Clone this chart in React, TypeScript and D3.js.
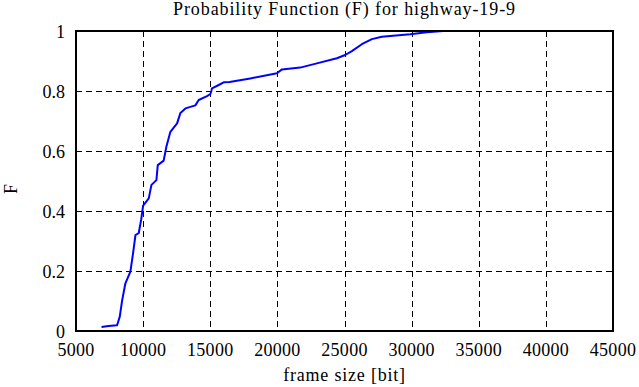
import React, { useRef, useEffect } from "react";
import * as d3 from "d3";

type Point = [number, number];

// values
const frameSizes: number[] = [
  6900, 7420, 8060, 8260, 8440, 8680, 9050, 9250, 9430, 9670, 9850, 10000, 10420, 10620,
  10990, 11090, 11530, 11730, 12030, 12530, 12780, 13150, 13890, 14140, 14760, 15010,
  15080, 15130, 15630, 16000, 16440, 17980, 19970, 20340, 21700, 22940, 24430, 25050,
  25550, 26290, 27040, 27780, 29890, 31130, 32360,
];
const probF: number[] = [
  0.013, 0.017, 0.019, 0.048, 0.103, 0.159, 0.198, 0.259, 0.32, 0.326, 0.37, 0.418, 0.442,
  0.487, 0.503, 0.553, 0.568, 0.614, 0.664, 0.692, 0.727, 0.742, 0.752, 0.77, 0.783, 0.79,
  0.8, 0.809, 0.82, 0.829, 0.83, 0.842, 0.859, 0.872, 0.878, 0.892, 0.909, 0.92, 0.933,
  0.956, 0.973, 0.981, 0.989, 0.996, 1.0,
];
const xTicks: number[] = [5000, 10000, 15000, 20000, 25000, 30000, 35000, 40000, 45000];
const yTicks: number[] = [0, 0.2, 0.4, 0.6, 0.8, 1];

const title = "Probability Function (F) for highway-19-9";
const xLabel = "frame size [bit]";
const yLabel = "F";

const W = 639;
const H = 387;

const App: React.FC = () => {
  const svgRef = useRef<SVGSVGElement>(null);

  useEffect(() => {
    const margin = { top: 31, right: 26, bottom: 56, left: 76 };
    const width = W - margin.left - margin.right;
    const height = H - margin.top - margin.bottom;
    const font = "Liberation Serif, DejaVu Serif, serif";

    const svg = d3.select(svgRef.current);
    svg.selectAll("*").remove();
    const focus = svg.append("g").attr("transform", `translate(${margin.left},${margin.top})`);

    const x = d3.scaleLinear().domain([5000, 45000]).range([0, width]);
    const y = d3.scaleLinear().domain([0, 1]).range([height, 0]);

    // grid (half-pixel offset keeps the 1px dashes crisp)
    focus.append("g")
      .selectAll("line")
      .data(xTicks.slice(1, -1))
      .enter()
      .append("line")
      .attr("x1", d => Math.round(x(d)) + 0.5).attr("x2", d => Math.round(x(d)) + 0.5)
      .attr("y1", 0).attr("y2", height)
      .attr("stroke", "#000").attr("stroke-width", 1)
      .attr("shape-rendering", "crispEdges")
      .attr("stroke-dasharray", "6,4");

    focus.append("g")
      .selectAll("line")
      .data(yTicks.slice(1, -1))
      .enter()
      .append("line")
      .attr("x1", 0).attr("x2", width)
      .attr("y1", d => Math.round(y(d)) + 0.5).attr("y2", d => Math.round(y(d)) + 0.5)
      .attr("stroke", "#000").attr("stroke-width", 1)
      .attr("shape-rendering", "crispEdges")
      .attr("stroke-dasharray", "6,4");

    // tick labels
    focus.append("g")
      .selectAll("text")
      .data(xTicks)
      .enter()
      .append("text")
      .attr("x", d => x(d))
      .attr("y", height + 25)
      .attr("text-anchor", "middle")
      .attr("font-family", font)
      .attr("font-size", 18)
      .attr("letter-spacing", 0.3)
      .text(d => String(d));

    focus.append("g")
      .selectAll("text")
      .data(yTicks)
      .enter()
      .append("text")
      .attr("x", -11)
      .attr("y", d => y(d) + 7)
      .attr("text-anchor", "end")
      .attr("font-family", font)
      .attr("font-size", 18)
      .text(d => d3.format("~g")(d));

    // curve
    const points: Point[] = frameSizes.map((v, i) => [v, probF[i]]);
    const line = d3.line<Point>()
      .x(d => x(d[0]))
      .y(d => y(d[1]));

    focus.append("path")
      .datum(points)
      .attr("fill", "none")
      .attr("stroke", "#0000ff")
      .attr("stroke-width", 2)
      .attr("stroke-linejoin", "round")
      .attr("d", line);

    // frame
    focus.append("rect")
      .attr("x", 0).attr("y", 0)
      .attr("width", width).attr("height", height)
      .attr("fill", "none")
      .attr("stroke", "#000")
      .attr("stroke-width", 2);

    // titles
    svg.append("text")
      .attr("x", margin.left + width / 2)
      .attr("y", 15)
      .attr("text-anchor", "middle")
      .attr("font-family", font)
      .attr("font-size", 18)
      .attr("letter-spacing", 0.9)
      .text(title);

    svg.append("text")
      .attr("x", margin.left + width / 2)
      .attr("y", 381)
      .attr("text-anchor", "middle")
      .attr("font-family", font)
      .attr("font-size", 18)
      .attr("letter-spacing", 0.8)
      .text(xLabel);

    svg.append("text")
      .attr("transform", `translate(17,${margin.top + height / 2 + 8}) rotate(-90)`)
      .attr("text-anchor", "middle")
      .attr("font-family", font)
      .attr("font-size", 18)
      .text(yLabel);
  }, []);

  return (
    <svg
      ref={svgRef}
      width={W}
      height={H}
      style={{ position: "absolute", left: 0, top: 0, background: "#fff" }}
    ></svg>
  );
};

export default App;
